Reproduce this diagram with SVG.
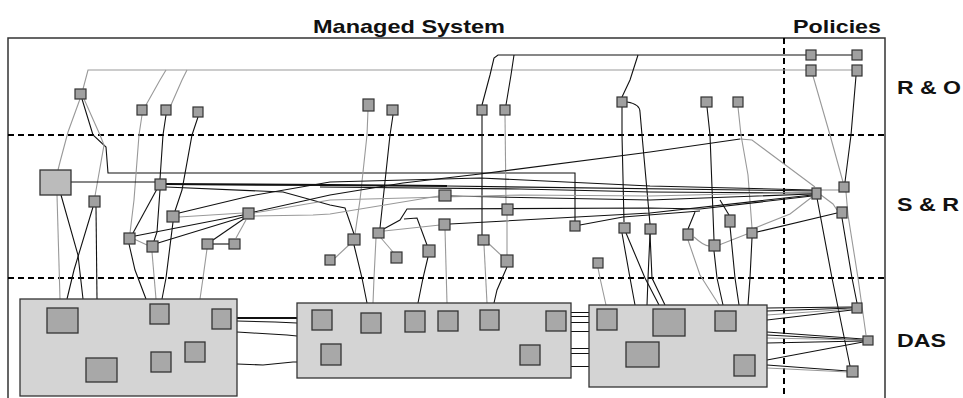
<svg xmlns="http://www.w3.org/2000/svg" width="963" height="398" viewBox="0 0 963 398">
<style>
text{font-family:"Liberation Sans",Arial,sans-serif;font-weight:bold;fill:#111;font-size:19px}
.frame{fill:none;stroke:#333;stroke-width:1.5}
.dash{fill:none;stroke:#000;stroke-width:1.2;stroke-dasharray:6 4;shape-rendering:crispEdges}
.k{fill:none;stroke:#111;stroke-width:1.1}
.kk{fill:none;stroke:#111;stroke-width:2.2}
.kc{fill:none;stroke:#111;stroke-width:1;shape-rendering:crispEdges}
.g{fill:none;stroke:#999;stroke-width:1.1}
.n{fill:#a0a0a0;stroke:#333;stroke-width:1.2}
.d{fill:#d4d4d4;stroke:#333;stroke-width:1.3}
.s{fill:#a8a8a8;stroke:#333;stroke-width:1.3}
.b{fill:#bbbbbb;stroke:#333;stroke-width:1.3}
</style>
<rect width="963" height="398" fill="#fff"/>
<text x="313" y="33" textLength="192" lengthAdjust="spacingAndGlyphs">Managed System</text>
<text x="793" y="33" textLength="88" lengthAdjust="spacingAndGlyphs">Policies</text>
<text x="897" y="94" textLength="64" lengthAdjust="spacingAndGlyphs">R &amp; O</text>
<text x="897" y="211" textLength="62" lengthAdjust="spacingAndGlyphs">S &amp; R</text>
<text x="897" y="347" textLength="49" lengthAdjust="spacingAndGlyphs">DAS</text>
<path class="frame" d="M8,400 V38 H885 V400"/>
<path class="dash" d="M8,135 H885 M8,278 H885 M784,38 V400"/>

<g id="connectors">
<!-- R&O -->
<path class="g" d="M83,89 L88,70 H857"/>
<path class="g" d="M146,105 L160,80 L166,70"/>
<path class="g" d="M171,105 L182,80 L187,70"/>
<path class="k" d="M482,105 L490,75 L494,58 L498,55 H857"/>
<path class="k" d="M506,105 L511,75 L514,55"/>
<path class="k" d="M622,97 L630,80 L638,55"/>
<path class="g" d="M813,76 L830,135 L843,182"/>
<path class="k" d="M856,76 L851,135 L845,182"/>
<path class="g" d="M80,99 L68,132 L60,162 L58,170"/>
<path class="k" d="M82,99 L93,135 L106,147 L108,173 H575 V221"/>
<path class="g" d="M84,99 L100,135 L104,145 L95,196"/>
<path class="g" d="M142,115 L139,135 L134,200 L130,233"/>
<path class="k" d="M166,115 L163,135 L160,179"/>
<path class="k" d="M198,117 L192,135 L182,190 L175,211"/>
<path class="g" d="M368,110 L367,135 L360,200 L355,234"/>
<path class="k" d="M393,115 L390,135 L380,228"/>
<path class="k" d="M482,115 V235"/>
<path class="g" d="M505,115 L506,204"/>
<path class="k" d="M622,107 L622,135 L624,222"/>
<path class="k" d="M627,102 Q640,104 640,112 L642,135 L650,224"/>
<path class="k" d="M707,107 L710,135 L714,240"/>
<path class="g" d="M738,107 L741,135 L748,175 L752,228"/>
<!-- S&R bundle -->
<path class="k" d="M71,182 H155"/>
<path class="kk" d="M166,184 L330,185 L447,186"/>
<path class="k" d="M447,186 L816,191"/>
<path class="k" d="M166,187 L283,192 L330,205 L345,208 L354,234"/>
<path class="k" d="M320,187 L520,189 L650,192 L812,193"/>
<path class="k" d="M254,212 L330,195 L403,183 L480,174 L650,152 L740,139"/>
<path class="g" d="M740,139 L752,140 L815,187"/>
<path class="g" d="M254,216 L313,215 L330,214 L439,196"/>
<path class="k" d="M451,196 L547,198 L650,200 L812,194"/>
<path class="k" d="M380,231 L400,220 L407,209 L650,208 L700,209 L812,196"/>
<path class="k" d="M404,219 L417,218 L427,245"/>
<path class="g" d="M384,231 L440,225"/>
<path class="k" d="M450,224 L650,213 L812,195"/>
<path class="k" d="M580,225 L623,217 L700,211"/>
<path class="k" d="M179,213 L250,196 L330,182 L480,178 L650,186 L812,190"/>
<path class="g" d="M179,217 L243,213"/>
<path class="g" d="M254,213 L330,200 L520,195 L650,196 L812,192"/>
<path class="k" d="M688,229 L695,212"/>
<path class="k" d="M729,215 L720,200"/>
<path class="g" d="M750,230 L790,214 L812,197"/>
<path class="k" d="M757,232 L837,213"/>
<path class="g" d="M821,190 H839"/>
<path class="g" d="M821,195 L833,204 L837,210"/>
<!-- left S&R small links -->
<path class="k" d="M133,233 L157,189"/>
<path class="k" d="M160,190 L157,232 L154,241"/>
<path class="k" d="M135,236 L243,215"/>
<path class="k" d="M158,243 L243,217"/>
<path class="g" d="M134,239 L147,245"/>
<path class="k" d="M245,218 L213,240"/>
<path class="g" d="M246,220 L236,238"/>
<path class="k" d="M212,244 H229"/>
<path class="g" d="M335,258 L350,244"/>
<path class="g" d="M381,238 L393,252"/>
<path class="g" d="M488,243 L503,257"/>
<path class="g" d="M507,215 V255"/>
<path class="g" d="M694,237 Q704,246 709,246"/>
<path class="g" d="M719,245 L747,234"/>
<!-- down to DAS -->
<path class="g" d="M57,195 L60,299"/>
<path class="k" d="M61,195 L78,255 L83,299"/>
<path class="k" d="M93,207 L74,270 L67,299"/>
<path class="k" d="M96,207 L97,299"/>
<path class="k" d="M129,244 L135,270 L146,299"/>
<path class="g" d="M152,252 L156,299"/>
<path class="k" d="M173,222 L166,278 L162,299"/>
<path class="g" d="M207,249 L203,278 L200,299"/>
<path class="k" d="M354,245 L362,278 L367,303"/>
<path class="g" d="M376,238 L374,278 L373,303"/>
<path class="k" d="M428,257 L423,278 L418,303"/>
<path class="g" d="M445,229 L447,303"/>
<path class="g" d="M484,245 L487,303"/>
<path class="k" d="M507,267 L497,290 L494,303"/>
<path class="g" d="M598,268 L600,278 L606,305"/>
<path class="k" d="M622,233 L630,278 L635,305"/>
<path class="k" d="M626,233 L645,278 L659,305"/>
<path class="k" d="M650,234 L652,278 L665,305"/>
<path class="k" d="M650,234 L648,278 L647,305"/>
<path class="g" d="M688,240 L700,275 L719,305"/>
<path class="k" d="M714,251 L717,278 L723,305"/>
<path class="k" d="M730,226 L735,278 L739,305"/>
<path class="k" d="M752,238 L750,278 L748,305"/>
<path class="k" d="M817,198 L832,278 L850,366"/>
<path class="k" d="M842,218 L852,278 L857,303"/>
<path class="g" d="M846,192 L848,215 L858,278 L866,335"/>
<!-- DAS inter-box -->
<path class="kk" d="M237,318 H297"/>
<path class="k" d="M237,321 L275,322 L297,323"/>
<path class="k" d="M237,332 L253,333 L287,335 L297,336"/>
<path class="k" d="M237,364 L263,365 L293,362 L297,362"/>
<path class="kc" d="M571,312.5 H589 M571,316.5 H589 M571,322.5 H589 M571,331.5 H589 M571,348.5 H589 M571,353.5 H589 M571,366.5 H589"/>
<path class="k" d="M767,308 L852,307"/>
<path class="k" d="M767,311 L852,308"/>
<path class="g" d="M767,315 L852,309"/>
<path class="k" d="M767,320 L852,310"/>
<path class="k" d="M767,332 L863,339"/>
<path class="k" d="M767,335 L863,340"/>
<path class="g" d="M767,338 L863,340"/>
<path class="k" d="M767,343 L863,341"/>
<path class="k" d="M767,360 L863,342"/>
<path class="k" d="M767,365 L848,371"/>
<path class="g" d="M767,368 L848,372"/>
</g>

<!-- policy nodes -->
<g id="p1"><rect class="n" x="806" y="50" width="10" height="10"/></g>
<g id="p2"><rect class="n" x="852" y="50" width="10" height="10"/></g>
<g id="p3"><rect class="n" x="806" y="65" width="10" height="11"/></g>
<g id="p4"><rect class="n" x="852" y="65" width="10" height="11"/></g>
<g id="p5"><rect class="n" x="812" y="188" width="9" height="11"/></g>
<g id="p6"><rect class="n" x="839" y="182" width="10" height="10"/></g>
<g id="p7"><rect class="n" x="837" y="207" width="10" height="11"/></g>
<g id="p8"><rect class="n" x="852" y="303" width="10" height="10"/></g>
<g id="p9"><rect class="n" x="863" y="336" width="10" height="9"/></g>
<g id="p10"><rect class="n" x="847" y="366" width="11" height="11"/></g>
<!-- R&O nodes -->
<g id="r1"><rect class="n" x="75" y="89" width="11" height="10"/></g>
<g id="r2"><rect class="n" x="137" y="105" width="10" height="10"/></g>
<g id="r3"><rect class="n" x="161" y="105" width="10" height="10"/></g>
<g id="r4"><rect class="n" x="193" y="107" width="10" height="10"/></g>
<g id="r5"><rect class="n" x="363" y="99" width="11" height="12"/></g>
<g id="r6"><rect class="n" x="387" y="105" width="11" height="10"/></g>
<g id="r7"><rect class="n" x="477" y="105" width="10" height="10"/></g>
<g id="r8"><rect class="n" x="500" y="105" width="10" height="10"/></g>
<g id="r9"><rect class="n" x="617" y="97" width="10" height="10"/></g>
<g id="r10"><rect class="n" x="701" y="97" width="11" height="10"/></g>
<g id="r11"><rect class="n" x="733" y="97" width="10" height="10"/></g>
<!-- S&R nodes -->
<g id="s0"><rect class="b" x="40" y="170" width="31" height="25"/></g>
<g id="s1"><rect class="n" x="89" y="196" width="11" height="11"/></g>
<g id="s2"><rect class="n" x="155" y="179" width="11" height="11"/></g>
<g id="s3"><rect class="n" x="167" y="211" width="12" height="11"/></g>
<g id="s4"><rect class="n" x="243" y="208" width="11" height="11"/></g>
<g id="s5"><rect class="n" x="124" y="233" width="11" height="11"/></g>
<g id="s6"><rect class="n" x="147" y="241" width="11" height="11"/></g>
<g id="s7"><rect class="n" x="202" y="239" width="11" height="10"/></g>
<g id="s8"><rect class="n" x="229" y="239" width="11" height="10"/></g>
<g id="s9"><rect class="n" x="325" y="255" width="10" height="10"/></g>
<g id="s10"><rect class="n" x="348" y="234" width="12" height="11"/></g>
<g id="s11"><rect class="n" x="373" y="228" width="11" height="10"/></g>
<g id="s12"><rect class="n" x="391" y="252" width="11" height="11"/></g>
<g id="s13"><rect class="n" x="423" y="245" width="12" height="12"/></g>
<g id="s14"><rect class="n" x="439" y="190" width="12" height="11"/></g>
<g id="s15"><rect class="n" x="439" y="219" width="11" height="11"/></g>
<g id="s16"><rect class="n" x="478" y="235" width="11" height="10"/></g>
<g id="s17"><rect class="n" x="502" y="204" width="11" height="11"/></g>
<g id="s18"><rect class="n" x="501" y="255" width="12" height="12"/></g>
<g id="s19"><rect class="n" x="570" y="221" width="10" height="10"/></g>
<g id="s20"><rect class="n" x="593" y="258" width="10" height="10"/></g>
<g id="s21"><rect class="n" x="619" y="223" width="11" height="10"/></g>
<g id="s22"><rect class="n" x="645" y="224" width="11" height="10"/></g>
<g id="s23"><rect class="n" x="683" y="229" width="10" height="11"/></g>
<g id="s24"><rect class="n" x="709" y="240" width="11" height="11"/></g>
<g id="s25"><rect class="n" x="725" y="215" width="10" height="12"/></g>
<g id="s26"><rect class="n" x="747" y="228" width="10" height="10"/></g>
<!-- DAS boxes -->
<g id="das1">
<rect class="d" x="20" y="299" width="217" height="97"/>
<rect class="s" x="47" y="308" width="31" height="25"/>
<rect class="s" x="86" y="358" width="31" height="24"/>
<rect class="s" x="150" y="304" width="19" height="20"/>
<rect class="s" x="212" y="309" width="19" height="20"/>
<rect class="s" x="185" y="342" width="20" height="20"/>
<rect class="s" x="151" y="352" width="20" height="20"/>
</g>
<g id="das2">
<rect class="d" x="297" y="303" width="274" height="75"/>
<rect class="s" x="312" y="310" width="20" height="20"/>
<rect class="s" x="321" y="344" width="20" height="21"/>
<rect class="s" x="361" y="313" width="20" height="20"/>
<rect class="s" x="405" y="311" width="20" height="21"/>
<rect class="s" x="438" y="311" width="20" height="20"/>
<rect class="s" x="480" y="310" width="19" height="20"/>
<rect class="s" x="546" y="311" width="20" height="20"/>
<rect class="s" x="520" y="345" width="20" height="20"/>
</g>
<g id="das3">
<rect class="d" x="589" y="305" width="178" height="82"/>
<rect class="s" x="597" y="309" width="20" height="21"/>
<rect class="s" x="653" y="309" width="32" height="27"/>
<rect class="s" x="715" y="311" width="21" height="20"/>
<rect class="s" x="626" y="342" width="33" height="25"/>
<rect class="s" x="734" y="355" width="21" height="21"/>
</g>
</svg>
